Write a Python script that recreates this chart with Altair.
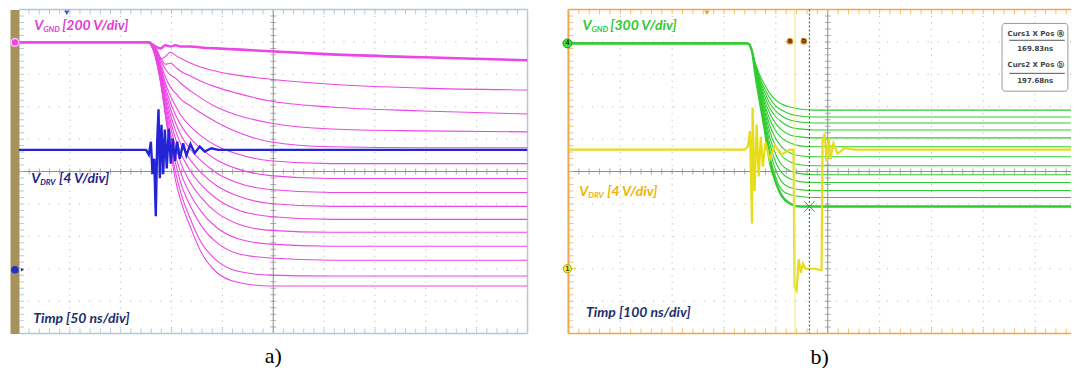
import altair as alt
import pandas as pd

# ---------------- a)  50 ns/div, VGND 200 V/div, VDRV 4 V/div ----------------
A_T = [-47, 80, 87, 92, 97, 102, 107, 112, 122, 132, 147, 167, 200, 260, 350, 453]  # ns
A_VGND = [  # V, one row per acquisition
    [0, 0, -25, -37, -18, -25, -18, -25, -25, -31, -37, -43, -55, -74, -92, -110],
    [0, 0, -37, -104, -86, -61, -80, -98, -129, -153, -178, -202, -227, -258, -282, -294],
    [0, 0, -31, -92, -135, -129, -153, -178, -209, -239, -276, -313, -362, -399, -423, -442],
    [0, 0, -31, -104, -166, -202, -221, -252, -301, -344, -399, -448, -497, -534, -546, -552],
    [0, 0, -37, -123, -215, -276, -313, -350, -393, -436, -491, -552, -613, -644, -650, -650],
    [0, 0, -43, -141, -252, -331, -393, -448, -521, -577, -638, -687, -730, -748, -748, -748],
    [0, 0, -49, -153, -276, -374, -448, -509, -595, -656, -724, -779, -822, -840, -840, -840],
    [0, 0, -55, -166, -301, -411, -497, -570, -663, -730, -804, -865, -908, -926, -926, -926],
    [0, 0, -61, -178, -325, -448, -546, -626, -730, -804, -883, -945, -994, -1012, -1012, -1012],
    [0, 0, -67, -190, -350, -485, -595, -681, -798, -877, -963, -1031, -1074, -1092, -1092, -1092],
    [0, 0, -74, -202, -374, -521, -644, -742, -871, -957, -1049, -1117, -1160, -1172, -1172, -1172],
    [0, 0, -80, -215, -399, -564, -699, -804, -945, -1043, -1141, -1209, -1245, -1258, -1258, -1258],
    [0, 0, -86, -227, -423, -607, -748, -865, -1018, -1129, -1233, -1301, -1331, -1344, -1344, -1344],
    [0, 0, -86, -239, -442, -638, -804, -926, -1098, -1233, -1344, -1411, -1436, -1442, -1442, -1442],
    [0, 0, -86, -239, -454, -669, -853, -975, -1147, -1294, -1417, -1479, -1503, -1503, -1503, -1503],
]
A_DRV_T = [-47, 78, 80.7, 82.7, 84.3, 86, 87.5, 88.9, 90.2, 91.5, 93.1, 94.8, 96.4, 98.3, 100.3,
           102.3, 104.2, 106.2, 108.5, 111.1, 114.4, 117.6, 121.6, 125.8, 130.7, 135.6, 142.1, 149, 453]
A_DRV_V = [14.8, 14.8, 14.2, 15.8, 11.8, 13.7, 6.6, 15.8, 19.8, 11.3, 17.9, 11.8, 17.3, 12.5, 17.4,
           13.1, 16.2, 13.4, 15.8, 13.7, 15.6, 14.1, 15.5, 14.4, 15.2, 14.6, 15.0, 14.8, 14.8]

# ---------------- b)  100 ns/div, VGND 300 V/div, VDRV 4 V/div ----------------
B_T = [-267, 79, 87, 94, 102, 112, 121, 133, 144, 160, 179, 208, 256, 717]
B_VGND = [
    [0, 0, -74, -193, -294, -386, -460, -525, -561, -589, -607, -617, -617, -617],
    [0, 0, -74, -202, -322, -423, -506, -580, -617, -653, -672, -681, -681, -681],
    [0, 0, -74, -212, -340, -460, -552, -626, -672, -709, -727, -736, -736, -736],
    [0, 0, -74, -221, -359, -497, -598, -681, -727, -773, -791, -801, -801, -801],
    [0, 0, -74, -230, -377, -534, -644, -745, -801, -847, -865, -874, -874, -874],
    [0, 0, -74, -239, -396, -571, -699, -810, -874, -920, -948, -957, -957, -957],
    [0, 0, -74, -248, -414, -607, -755, -883, -957, -1012, -1040, -1049, -1049, -1049],
    [0, 0, -74, -258, -432, -644, -810, -957, -1040, -1095, -1123, -1132, -1132, -1132],
    [0, 0, -74, -267, -451, -681, -865, -1031, -1123, -1178, -1205, -1215, -1215, -1215],
    [0, 0, -74, -276, -469, -718, -920, -1104, -1196, -1252, -1279, -1288, -1288, -1288],
    [0, 0, -74, -285, -488, -755, -975, -1178, -1279, -1334, -1353, -1362, -1362, -1362],
    [0, 0, -74, -294, -506, -782, -1031, -1242, -1353, -1399, -1417, -1426, -1426, -1426],
    [0, 0, -74, -304, -534, -810, -1086, -1288, -1408, -1481, -1509, -1509, -1509, -1509],
]
B_DRV_T = [-267, 73, 79, 83, 87, 88, 92, 96, 100, 104, 108, 113, 121, 131, 144, 160, 167, 169, 173, 177,
           181, 185, 190, 208, 221, 223, 227, 231, 235, 238, 244, 252, 265, 285, 717]
B_DRV_V = [14.7, 14.7, 15.1, 17.0, 5.6, 19.9, 9.6, 17.8, 11.4, 16.3, 12.6, 15.6, 13.5, 15.2, 14.1, 14.7,
           14.7, -2.3, -2.7, 1.2, -0.5, 0.6, 0, 0, -0.2, 15.7, 16.7, 13.2, 16.2, 13.5, 15.5, 14.2, 14.9,
           14.7, 14.7]
CURSOR_T = [169.83, 197.68]
CURSOR_VALUE = ["169.83ns", "197.68ns"]
CURSOR_NAME = ["Curs1 X Pos \u24d0", "Curs2 X Pos \u24d1"]
CURSOR_LETTER = ["a", "b"]

# ---------------- labels ----------------
A_LBL_VGND = ("V", "GND", "[200 V/div]")
A_LBL_VDRV = ("V", "DRV", "[4 V/div]")
A_LBL_TIME = "Timp [50 ns/div]"
B_LBL_VGND = ("V", "GND", "[300 V/div]")
B_LBL_VDRV = ("V", "DRV", "[4 V/div]")
B_LBL_TIME = "Timp [100 ns/div]"
PANEL_TITLES = ["a)", "b)"]

# ---------------- styling ----------------
FONT = "Lato"
PINK = "#ec46e4"
PINK_TXT = "#e23ad8"
BLUE = "#2424d6"
BLUE_TXT = "#1e1e8c"
GREEN = "#2fcc2f"
YELLOW = "#e6dc1a"
YELLOW_TXT = "#f2b200"
NAVY = "#1b2e6c"
BROWN = "#a8925c"
FRAME_A = "#b4c6dc"
ORANGE = "#f0a64a"
GRID = "#b4b4b4"
CENTER = "#8c8c8c"
H = 325

GY = alt.Y("gy:Q", scale=alt.Scale(domain=[0, 10], nice=False, zero=False), axis=None)


def vy(domain):
    return alt.Y("v:Q", scale=alt.Scale(domain=domain, nice=False, zero=False), axis=None)


def xenc(domain):
    return alt.X("t:Q", scale=alt.Scale(domain=domain, nice=False, zero=False), axis=None)


def grid(X, x0, nsd, frame_col, tick_col, left_bar=False, right_edge=None, left_edge=False):
    L = []
    vg = pd.DataFrame({"t": [x0 + k * nsd for k in range(1, 10) if k != 5]})
    hg = pd.DataFrame({"gy": [k for k in range(1, 10) if k != 5]})
    L.append(alt.Chart(vg).mark_rule(color=GRID, strokeWidth=1, strokeDash=[1, 5.5]).encode(x=X))
    if left_bar:
        gy_enc = alt.Y("gy:Q", scale=alt.Scale(domain=[0, 10], nice=False, zero=False),
                       axis=alt.Axis(orient="left", domain=True, domainColor=BROWN, domainWidth=9,
                                     offset=4.5, ticks=False, labels=False, grid=False, title=None))
    else:
        gy_enc = GY
    L.append(alt.Chart(hg).mark_rule(color=GRID, strokeWidth=1, strokeDash=[1, 9.2]).encode(y=gy_enc))
    L.append(alt.Chart(pd.DataFrame({"t": [x0 + 5 * nsd]})).mark_rule(color=CENTER, strokeWidth=1).encode(x=X))
    L.append(alt.Chart(pd.DataFrame({"gy": [5]})).mark_rule(color=CENTER, strokeWidth=1).encode(y=GY))
    xt = [x0 + k * nsd / 5 for k in range(51)]
    yt = [k * 0.2 for k in range(51)]
    L.append(alt.Chart(pd.DataFrame({"t": xt * 2, "gy": [0] * 51 + [10] * 51}))
             .mark_tick(orient="vertical", size=10, thickness=1, color=tick_col, clip=True)
             .encode(x=X, y=GY))
    L.append(alt.Chart(pd.DataFrame({"t": xt, "gy": [5] * 51}))
             .mark_tick(orient="vertical", size=6, thickness=1, color=CENTER, clip=True)
             .encode(x=X, y=GY))
    L.append(alt.Chart(pd.DataFrame({"t": [x0] * 51, "gy": yt}))
             .mark_tick(orient="horizontal", size=10, thickness=1, color=tick_col, clip=True)
             .encode(x=X, y=GY))
    L.append(alt.Chart(pd.DataFrame({"t": [x0 + 5 * nsd] * 51, "gy": yt}))
             .mark_tick(orient="horizontal", size=6, thickness=1, color=CENTER, clip=True)
             .encode(x=X, y=GY))
    L.append(alt.Chart(pd.DataFrame({"gy": [0, 10]})).mark_rule(color=frame_col, strokeWidth=1.5).encode(y=GY))
    if right_edge is not None:
        L.append(alt.Chart(pd.DataFrame({"t": [right_edge]})).mark_rule(color=frame_col, strokeWidth=1.5).encode(x=X))
    if left_edge:
        L.append(alt.Chart(pd.DataFrame({"t": [x0]})).mark_rule(color=frame_col, strokeWidth=2).encode(x=X))
    return L


def sub_label(X, t, gy, parts, color, sub_dx, rest_dx):
    main, sub, rest = parts
    df = pd.DataFrame({"t": [t], "gy": [gy], "a": [main], "b": [sub], "c": [rest]})
    base = alt.Chart(df)
    kw = dict(font=FONT, fontStyle="italic", fontWeight="bold", align="left", baseline="middle", color=color)
    return [
        base.mark_text(fontSize=14, **kw).encode(x=X, y=GY, text="a:N"),
        base.mark_text(fontSize=8, dx=sub_dx, dy=4, **kw).encode(x=X, y=GY, text="b:N"),
        base.mark_text(fontSize=14, dx=rest_dx, **kw).encode(x=X, y=GY, text="c:N"),
    ]


def plain_label(X, t, gy, txt, color):
    df = pd.DataFrame({"t": [t], "gy": [gy], "txt": [txt]})
    return alt.Chart(df).mark_text(font=FONT, fontStyle="italic", fontWeight="bold", fontSize=14,
                                   align="left", baseline="middle", color=color).encode(x=X, y=GY, text="txt:N")


def traces_df(T, rows):
    recs = []
    for i, r in enumerate(rows):
        for t, v in zip(T, r):
            recs.append({"t": t, "v": v, "trace": i + 1})
    return pd.DataFrame(recs)


title_kw = dict(orient="bottom", anchor="middle", font="Liberation Serif", fontSize=22,
                fontWeight="normal", color="black", offset=12)

# ================= panel a =================
XA = xenc([-47, 453])
YA_G = vy([-1797, 203])
YA_D = vy([-7.88, 32.12])
dfA = traces_df(A_T, A_VGND)
la = grid(XA, -47, 50, FRAME_A, "#9db2cc", left_bar=True, right_edge=453)
la.append(alt.Chart(dfA).mark_line(color=PINK, strokeWidth=1.1, interpolate="monotone", clip=True)
          .encode(x=XA, y=YA_G, detail="trace:N"))
la.append(alt.Chart(dfA[dfA.trace == 1]).mark_line(color=PINK, strokeWidth=2.6, interpolate="monotone", clip=True)
          .encode(x=XA, y=YA_G))
la.append(alt.Chart(pd.DataFrame({"t": A_DRV_T, "v": A_DRV_V})).mark_line(color=BLUE, strokeWidth=2.4, clip=True)
          .encode(x=XA, y=YA_D))
la.append(alt.Chart(pd.DataFrame({"t": [-51], "v": [0]}))
          .mark_circle(size=60, color=PINK, opacity=1, stroke="#ffc0ff", strokeWidth=1.5).encode(x=XA, y=YA_G))
la.append(alt.Chart(pd.DataFrame({"t": [-51], "v": [0]}))
          .mark_circle(size=60, color="#2232c4", opacity=1).encode(x=XA, y=YA_D))
la.append(alt.Chart(pd.DataFrame({"t": [-43.5], "v": [0]}))
          .mark_point(shape="triangle-right", filled=True, size=14, color="#2232c4", opacity=1).encode(x=XA, y=YA_D))
la.append(alt.Chart(pd.DataFrame({"t": [0], "gy": [9.9]}))
          .mark_point(shape="triangle-down", filled=True, size=30, color="#3a5ad0", opacity=1).encode(x=XA, y=GY))
la += sub_label(XA, -32, 9.48, A_LBL_VGND, PINK_TXT, 9, 28)
la += sub_label(XA, -35, 4.77, A_LBL_VDRV, BLUE_TXT, 9, 28)
la.append(plain_label(XA, -33, 0.46, A_LBL_TIME, NAVY))

panel_a = alt.layer(*la).properties(width=510, height=H, title=alt.TitleParams(PANEL_TITLES[0], **title_kw)) \
    .resolve_scale(y="independent")

# ================= panel b =================
XB = xenc([-267, 702])
YB_G = vy([-2686, 314])
YB_D = vy([-8, 32])
dfB = traces_df(B_T, B_VGND)
lb = grid(XB, -267, 100, ORANGE, ORANGE, left_edge=True)
lb.append(alt.Chart(dfB).mark_line(color=GREEN, strokeWidth=1.1, interpolate="monotone", clip=True)
          .encode(x=XB, y=YB_G, detail="trace:N"))
lb.append(alt.Chart(dfB[dfB.trace == len(B_VGND)]).mark_line(color=GREEN, strokeWidth=2.4, interpolate="monotone", clip=True)
          .encode(x=XB, y=YB_G))
lb.append(alt.Chart(pd.DataFrame({"t": B_T[:2], "v": [0, 0]})).mark_line(color=GREEN, strokeWidth=2.4, clip=True)
          .encode(x=XB, y=YB_G))
lb.append(alt.Chart(pd.DataFrame({"t": B_DRV_T, "v": B_DRV_V})).mark_line(color=YELLOW, strokeWidth=2.2, clip=True)
          .encode(x=XB, y=YB_D))
# cursors
lb.append(alt.Chart(pd.DataFrame({"t": [CURSOR_T[0]]})).mark_rule(color="#f2ea70", strokeWidth=1).encode(x=XB))
lb.append(alt.Chart(pd.DataFrame({"t": [CURSOR_T[1]]})).mark_rule(color="#1f8a3c", strokeWidth=1.2, strokeDash=[2, 2]).encode(x=XB))
cur_lbl = pd.DataFrame({"t": [160, 187], "gy": [9.02, 9.02], "txt": CURSOR_LETTER})
lb.append(alt.Chart(cur_lbl).mark_circle(size=45, color="#d88e2c", opacity=1).encode(x=XB, y=GY))
lb.append(alt.Chart(cur_lbl).mark_text(fontSize=7, fontWeight="bold", color="#3a2000", font="Liberation Sans")
          .encode(x=XB, y=GY, text="txt:N"))
lb.append(alt.Chart(pd.DataFrame({"t": [CURSOR_T[1]], "v": [-1509]}))
          .mark_point(shape="M-1,-1L1,1M1,-1L-1,1", filled=False, size=110, color="#2aa84a", strokeWidth=1, opacity=1)
          .encode(x=XB, y=YB_G))
# channel markers
lb.append(alt.Chart(pd.DataFrame({"t": [-269], "v": [0], "txt": ["4"]}))
          .mark_circle(size=80, color="#44dd44", opacity=1, stroke="#1a9a1a", strokeWidth=1).encode(x=XB, y=YB_G))
lb.append(alt.Chart(pd.DataFrame({"t": [-269], "v": [0], "txt": ["4"]}))
          .mark_text(fontSize=7, fontWeight="bold", color="#103010", font="Liberation Sans").encode(x=XB, y=YB_G, text="txt:N"))
lb.append(alt.Chart(pd.DataFrame({"t": [-269], "v": [0], "txt": ["1"]}))
          .mark_circle(size=70, color="#f0ea40", opacity=1, stroke="#b0a000", strokeWidth=1).encode(x=XB, y=YB_D))
lb.append(alt.Chart(pd.DataFrame({"t": [-269], "v": [0], "txt": ["1"]}))
          .mark_text(fontSize=7, fontWeight="bold", color="#303000", font="Liberation Sans").encode(x=XB, y=YB_D, text="txt:N"))
lb.append(alt.Chart(pd.DataFrame({"t": [-254], "v": [0]}))
          .mark_point(shape="triangle-right", filled=True, size=10, color="#e6d81a", opacity=1).encode(x=XB, y=YB_D))
lb.append(alt.Chart(pd.DataFrame({"t": [0], "gy": [9.9]}))
          .mark_point(shape="triangle-down", filled=True, size=30, color="#f0a030", opacity=1).encode(x=XB, y=GY))
# labels
lb += sub_label(XB, -240, 9.48, B_LBL_VGND, "#2ec82e", 9, 28)
lb += sub_label(XB, -246, 4.37, B_LBL_VDRV, YELLOW_TXT, 9, 28)
lb.append(plain_label(XB, -233, 0.62, B_LBL_TIME, NAVY))
# cursor readout box
lb.append(alt.Chart(pd.DataFrame({"t": [569], "t2": [696], "gy": [9.57], "gy2": [7.48]}))
          .mark_rect(fill="white", stroke="#9a9a9a", strokeWidth=1, cornerRadius=3)
          .encode(x=XB, x2="t2:Q", y=GY, y2="gy2:Q"))
lb.append(alt.Chart(pd.DataFrame({"t": [583, 583], "t2": [690, 690], "gy": [9.05, 8.03]}))
          .mark_rule(color="#555555", strokeWidth=1).encode(x=XB, x2="t2:Q", y=GY))
lb.append(alt.Chart(pd.DataFrame({"t": [688, 688], "gy": [9.23, 8.28], "txt": CURSOR_NAME}))
          .mark_text(fontSize=7, fontWeight="bold", color="#444444", font="DejaVu Sans", align="right", baseline="middle")
          .encode(x=XB, y=GY, text="txt:N"))
lb.append(alt.Chart(pd.DataFrame({"t": [633, 633], "gy": [8.77, 7.78], "txt": CURSOR_VALUE}))
          .mark_text(fontSize=7, fontWeight="bold", color="#444444", font="DejaVu Sans", align="center", baseline="middle")
          .encode(x=XB, y=GY, text="txt:N"))

panel_b = alt.layer(*lb).properties(width=504, height=H, title=alt.TitleParams(PANEL_TITLES[1], **title_kw)) \
    .resolve_scale(y="independent")

chart = alt.hconcat(panel_a, panel_b, spacing=41, padding=0, bounds="flush", background="white") \
    .configure_view(stroke=None)

chart.save("out.html", embed_options={"renderer": "svg", "actions": False})
